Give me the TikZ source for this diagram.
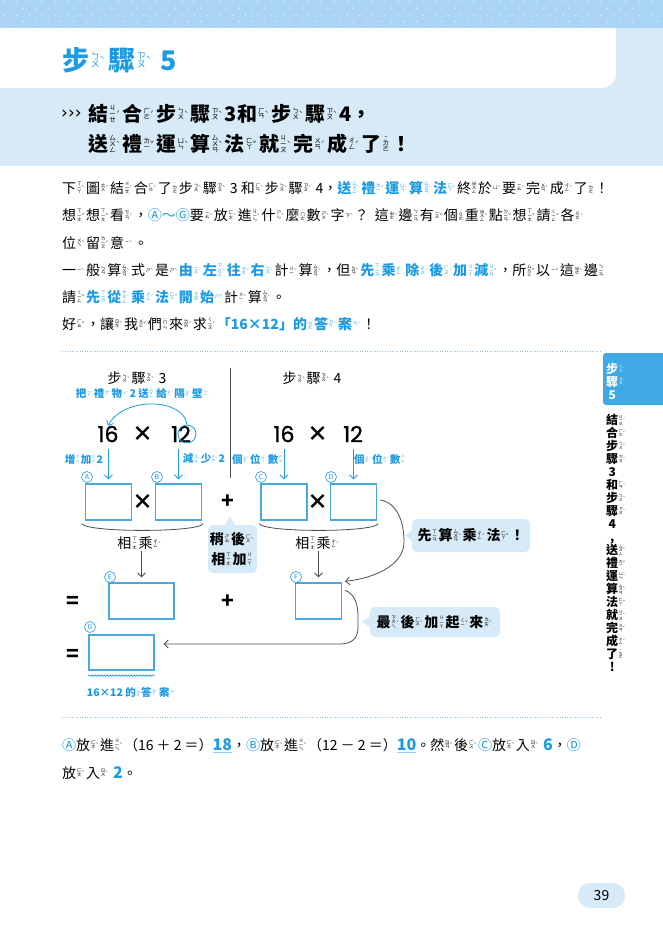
\documentclass[tikz,border=0pt]{standalone}
\usepackage{fontspec}
\setmainfont{Noto Sans CJK TC}
\newfontfamily\numfont{Poppins}[FakeBold=1.2]
\newfontfamily\symfont{DejaVu Sans}
\usetikzlibrary{calc, arrows.meta, decorations.pathmorphing}

% zhuyin set beside a character
\makeatletter
\newcommand\zyfont{\fontsize{\fpeval{0.33*\f@size}}{\fpeval{0.33*\f@size}}\selectfont\mdseries}
\makeatother
\newsavebox\zybox
\def\zystack#1{\ifx#1\relax\else\hbox to 1em{\hss#1\hss}\expandafter\zystack\fi}
\newcommand\zy[3]{#1\sbox\zybox{\zyfont$\vcenter{\baselineskip=0.9em\lineskiplimit=-9pt\zystack#2\relax}\vcenter{\hbox{#3}}$}%
  \kern0.06em\raisebox{\dimexpr0.36em-0.5\ht\zybox+0.5\dp\zybox\relax}{\usebox\zybox}\kern0.12em}

% words that come back
\newcommand\buzhou{\zy{步}{ㄅㄨ}{ˋ}\zy{驟}{ㄗㄡ}{ˋ}}
\newcommand\songli{\zy{送}{ㄙㄨㄥ}{ˋ}\zy{禮}{ㄌㄧ}{ˇ}\zy{運}{ㄩㄣ}{ˋ}\zy{算}{ㄙㄨㄢ}{ˋ}\zy{法}{ㄈㄚ}{ˇ}}
\newcommand\fangjin{\zy{放}{ㄈㄤ}{ˋ}\zy{進}{ㄐㄧㄣ}{ˋ}}
\newcommand\fangru{\zy{放}{ㄈㄤ}{ˋ}\zy{入}{ㄖㄨ}{ˋ}}
\newcommand\gewei{\zy{個}{ㄍㄜ}{ˋ}\zy{位}{ㄨㄟ}{ˋ}\zy{數}{ㄕㄨ}{ˋ}}
\newcommand\xiangcheng{\zy{相}{ㄒㄧㄤ}{}\zy{乘}{ㄔㄥ}{ˊ}}
\newcommand\hl{\color{textBlue}\bfseries}
\newcommand\cl[1]{{\color{textBlue}\mdseries#1}}
\newcommand\keynum[1]{{\color{textBlue}\bfseries\fontsize{16}{16}\selectfont#1}}
\newcommand\ans[1]{\setbox0\hbox{\bfseries\fontsize{16}{16}\selectfont#1}\rlap{\color{boxBlue!55}\rule[-3pt]{\wd0}{1pt}}\keynum{#1}}

\begin{document}
\begin{tikzpicture}[x=1pt, y=-1pt,
    >={Straight Barb[length=4pt,width=8pt]},
    answer box/.style={draw=boxBlue, line width=1.3pt, minimum width=46pt, minimum height=36pt, inner sep=0pt},
    wide box/.style={answer box, minimum width=65pt},
    letter/.style={circle, draw=textBlue, line width=0.6pt, text=textBlue, minimum size=11pt, inner sep=0pt, font=\fontsize{7}{7}\selectfont},
    body/.style={anchor=base west, inner sep=0pt, font=\fontsize{14}{16}\selectfont},
    tag/.style={inner sep=0pt, text=textBlue, font=\fontsize{10.5}{12}\selectfont\bfseries},
    bignum/.style={inner sep=0pt, font=\fontsize{22}{22}\numfont},
    bigop/.style={inner sep=0pt, font=\fontsize{21}{21}\selectfont\bfseries},
    plain/.style={inner sep=0pt, font=\fontsize{14}{14}\selectfont},
    bubble/.style={fill=paleBlue, rounded corners=5pt, inner sep=0pt, font=\fontsize{14}{20}\selectfont\bfseries, align=center},
    side text/.style={anchor=base west, inner sep=0pt, font=\fontsize{12}{12}\selectfont\bfseries},
    blue pointer/.style={->, textBlue, line width=0.8pt},
    grey pointer/.style={->, lineGrey, line width=0.8pt},
  ]

    \definecolor{textBlue}{HTML}{1D9BE2}
    \definecolor{paleBlue}{HTML}{D7EAF8}
    \definecolor{bandBlue}{HTML}{A9D4F3}
    \definecolor{dotBlue}{HTML}{CFE7FA}
    \definecolor{boxBlue}{HTML}{4AA8E0}
    \definecolor{sideBlue}{HTML}{3FA9E6}
    \definecolor{lineGrey}{HTML}{4D4D4D}

    \useasboundingbox[fill=white] (0,0) rectangle (663,932);

    % Draw the top band with its dots
    \fill[bandBlue] (0,0) rectangle (663,28);
    \foreach \r in {0,...,4}
        \foreach \c in {0,...,52}
            \fill[dotBlue] ({\c*12.7+mod(\r,2)*6.35+4},{\r*6.7+1.5}) circle (1.1);

    % Draw the title panel and the heading band
    \fill[paleBlue] (0,28) rectangle (663,166);
    \fill[white] (0,28) -- (616,28) -- (616,74) arc (0:90:14) -- (0,88) -- cycle;
    \node[anchor=base west, inner sep=0pt, text=textBlue, font=\fontsize{27}{27}\selectfont\bfseries] (title) at (62,70) {\buzhou\ 5};
    \node[anchor=base west, inner sep=0pt, font=\fontsize{17}{17}\symfont] (chev) at (61,118) {›››};
    \node[anchor=base west, inner sep=0pt, font=\fontsize{20}{20}\selectfont\bfseries] (head1) at (88,121)
        {\zy{結}{ㄐㄧㄝ}{ˊ}\zy{合}{ㄏㄜ}{ˊ}\buzhou 3\zy{和}{ㄏㄢ}{ˋ}\buzhou 4，};
    \node[anchor=base west, inner sep=0pt, font=\fontsize{20}{20}\selectfont\bfseries] (head2) at (88,151)
        {\songli\zy{就}{ㄐㄧㄡ}{ˋ}\zy{完}{ㄨㄢ}{ˊ}\zy{成}{ㄔㄥ}{ˊ}\zy{了}{˙ㄌㄜ}{}！};

    % Body text
    \node[body] (line1) at (62,193) {\zy{下}{ㄒㄧㄚ}{ˋ}\zy{圖}{ㄊㄨ}{ˊ}\zy{結}{ㄐㄧㄝ}{ˊ}\zy{合}{ㄏㄜ}{ˊ}\zy{了}{˙ㄌㄜ}{}\buzhou\ 3 \zy{和}{ㄏㄢ}{ˋ}\buzhou\ 4，{\hl\songli}\zy{終}{ㄓㄨㄥ}{}\zy{於}{ㄩ}{ˊ}\zy{要}{ㄧㄠ}{ˋ}\zy{完}{ㄨㄢ}{ˊ}\zy{成}{ㄔㄥ}{ˊ}\zy{了}{˙ㄌㄜ}{}！};
    \node[body] (line2) at (62,220.5) {\zy{想}{ㄒㄧㄤ}{ˇ}\zy{想}{ㄒㄧㄤ}{ˇ}\zy{看}{ㄎㄢ}{ˋ}，\cl{Ⓐ～Ⓖ}\zy{要}{ㄧㄠ}{ˋ}\fangjin\zy{什}{ㄕㄣ}{ˊ}\zy{麼}{˙ㄇㄜ}{}\zy{數}{ㄕㄨ}{ˋ}\zy{字}{ㄗ}{ˋ}？\ \ \zy{這}{ㄓㄜ}{ˋ}\zy{邊}{ㄅㄧㄢ}{}\zy{有}{ㄧㄡ}{ˇ}\zy{個}{˙ㄍㄜ}{}\zy{重}{ㄓㄨㄥ}{ˋ}\zy{點}{ㄉㄧㄢ}{ˇ}\zy{想}{ㄒㄧㄤ}{ˇ}\zy{請}{ㄑㄧㄥ}{ˇ}\zy{各}{ㄍㄜ}{ˋ}};
    \node[body] (line3) at (62,248) {\zy{位}{ㄨㄟ}{ˋ}\zy{留}{ㄌㄧㄡ}{ˊ}\zy{意}{ㄧ}{ˋ}。};
    \node[body] (line4) at (62,275.5) {\zy{一}{ㄧ}{ˋ}\zy{般}{ㄅㄢ}{}\zy{算}{ㄙㄨㄢ}{ˋ}\zy{式}{ㄕ}{ˋ}\zy{是}{ㄕ}{ˋ}{\hl\zy{由}{ㄧㄡ}{ˊ}\zy{左}{ㄗㄨㄛ}{ˇ}\zy{往}{ㄨㄤ}{ˇ}\zy{右}{ㄧㄡ}{ˋ}}\zy{計}{ㄐㄧ}{ˋ}\zy{算}{ㄙㄨㄢ}{ˋ}，\zy{但}{ㄉㄢ}{ˋ}{\hl\zy{先}{ㄒㄧㄢ}{}\zy{乘}{ㄔㄥ}{ˊ}\zy{除}{ㄔㄨ}{ˊ}\zy{後}{ㄏㄡ}{ˋ}\zy{加}{ㄐㄧㄚ}{}\zy{減}{ㄐㄧㄢ}{ˇ}}，\zy{所}{ㄙㄨㄛ}{ˇ}\zy{以}{ㄧ}{ˇ}\zy{這}{ㄓㄜ}{ˋ}\zy{邊}{ㄅㄧㄢ}{}};
    \node[body] (line5) at (62,302) {\zy{請}{ㄑㄧㄥ}{ˇ}{\hl\zy{先}{ㄒㄧㄢ}{}\zy{從}{ㄘㄨㄥ}{ˊ}\zy{乘}{ㄔㄥ}{ˊ}\zy{法}{ㄈㄚ}{ˇ}\zy{開}{ㄎㄞ}{}\zy{始}{ㄕ}{ˇ}}\zy{計}{ㄐㄧ}{ˋ}\zy{算}{ㄙㄨㄢ}{ˋ}。};
    \node[body] (line6) at (62,329) {\zy{好}{ㄏㄠ}{ˇ}，\zy{讓}{ㄖㄤ}{ˋ}\zy{我}{ㄨㄛ}{ˇ}\zy{們}{˙ㄇㄣ}{}\zy{來}{ㄌㄞ}{ˊ}\zy{求}{ㄑㄧㄡ}{ˊ}{\hl「16×12」\zy{的}{˙ㄉㄜ}{}\zy{答}{ㄉㄚ}{ˊ}\zy{案}{ㄢ}{ˋ}}！};

    % Dotted separators
    \draw[boxBlue!70, line width=1pt, dash pattern=on 1pt off 1.5pt] (62,351) -- (600,351);
    \draw[boxBlue!70, line width=1pt, dash pattern=on 1pt off 1.5pt] (62,717) -- (600,717);

    % Side tab
    \fill[sideBlue, rounded corners=3pt] (603,353) rectangle (675,405);
    \node[side text, text=white] (sideBu) at (606,373) {\zy{步}{ㄅㄨ}{ˋ}};
    \node[side text, text=white] (sideZou) at (606,386) {\zy{驟}{ㄗㄡ}{ˋ}};
    \node[side text, text=white] (sideNo) at (606,399) {\makebox[1em]{5}};
    \foreach \ch [count=\i] in {{\zy{結}{ㄐㄧㄝ}{ˊ}}, {\zy{合}{ㄏㄜ}{ˊ}}, {\zy{步}{ㄅㄨ}{ˋ}}, {\zy{驟}{ㄗㄡ}{ˋ}}, {\makebox[1em]{3}},
        {\zy{和}{ㄏㄢ}{ˋ}}, {\zy{步}{ㄅㄨ}{ˋ}}, {\zy{驟}{ㄗㄡ}{ˋ}}, {\makebox[1em]{4}}, {\makebox[1em]{,}},
        {\zy{送}{ㄙㄨㄥ}{ˋ}}, {\zy{禮}{ㄌㄧ}{ˇ}}, {\zy{運}{ㄩㄣ}{ˋ}}, {\zy{算}{ㄙㄨㄢ}{ˋ}}, {\zy{法}{ㄈㄚ}{ˇ}},
        {\zy{就}{ㄐㄧㄡ}{ˋ}}, {\zy{完}{ㄨㄢ}{ˊ}}, {\zy{成}{ㄔㄥ}{ˊ}}, {\zy{了}{˙ㄌㄜ}{}}, {\makebox[1em]{!}}}
        \node[side text] (side\i) at (606,{424.5+13*(\i-1)}) {\ch};

    % Step headers and divider
    \node[plain] (stepThree) at (137,378) {\buzhou\ 3};
    \node[plain] (stepFour) at (312,378) {\buzhou\ 4};
    \draw[lineGrey, line width=0.8pt] (230,368) -- (230,478);

    % The two products
    \node[bignum] (n16a) at (108,434) {16};
    \node[bigop] (timesA) at (143,434) {×};
    \node[bignum] (n12a) at (181,434) {12};
    \node[bignum] (n16b) at (284,434) {16};
    \node[bigop] (timesB) at (318,434) {×};
    \node[bignum] (n12b) at (353,434) {12};
    \node[circle, draw=textBlue, line width=0.8pt, minimum size=18pt, inner sep=0pt] (ring) at (187,434) {};
    \node[tag] (gift) at (143,393) {\zy{把}{ㄅㄚ}{ˇ}\zy{禮}{ㄌㄧ}{ˇ}\zy{物}{ㄨ}{ˋ} 2 \zy{送}{ㄙㄨㄥ}{ˋ}\zy{給}{ㄍㄟ}{ˇ}\zy{隔}{ㄍㄜ}{ˊ}\zy{壁}{ㄅㄧ}{ˋ}};
    \draw[blue pointer] (ring.north) .. controls (184,398) and (124,396) .. (n16a.north);

    % Labels over the boxes
    \node[tag] (inc) at (84,459) {\zy{增}{ㄗㄥ}{}\zy{加}{ㄐㄧㄚ}{} 2};
    \node[tag] (dec) at (204,459) {\zy{減}{ㄐㄧㄢ}{ˇ}\zy{少}{ㄕㄠ}{ˇ} 2};
    \node[tag] (onesC) at (259,459) {\gewei};
    \node[tag] (onesD) at (381,459) {\gewei};

    % Answer boxes
    \node[answer box] (boxA) at (108.5,502) {};
    \node[answer box] (boxB) at (178.5,502) {};
    \node[answer box] (boxC) at (284,502) {};
    \node[answer box] (boxD) at (353.5,502) {};
    \node[wide box] (boxE) at (141.5,601) {};
    \node[answer box] (boxF) at (318.5,601) {};
    \node[wide box, minimum height=35pt] (boxG) at (121.5,652.5) {};

    \node[letter] (letA) at (87,477) {A};
    \node[letter] (letB) at (157,477) {B};
    \node[letter] (letC) at (261,477) {C};
    \node[letter] (letD) at (331,477) {D};
    \node[letter] (letE) at (110,577) {E};
    \node[letter] (letF) at (296,577) {F};
    \node[letter] (letG) at (90,627) {G};

    \draw[blue pointer] ($(boxA.north)+(0,-34)$) -- ($(boxA.north)+(0,-4)$);
    \draw[blue pointer] ($(boxB.north)+(0,-34)$) -- ($(boxB.north)+(0,-4)$);
    \draw[blue pointer] ($(boxC.north)+(0,-34)$) -- ($(boxC.north)+(0,-4)$);
    \draw[blue pointer] ($(boxD.north)+(0,-34)$) -- ($(boxD.north)+(0,-4)$);

    % Operators
    \node[bigop] (mulAB) at (143,502) {×};
    \node[bigop] (plusTop) at (228,502) {+};
    \node[bigop] (mulCD) at (318,502) {×};
    \node[bigop] (eqE) at (73,602) {=};
    \node[bigop] (plusMid) at (228,602) {+};
    \node[bigop] (eqG) at (73,655) {=};

    % Brackets under the products
    \draw[lineGrey, line width=0.8pt] ($(boxA.south west)+(-3,3)$) .. controls +(4,9) and +(-4,9) .. ($(boxB.south east)+(1,3)$);
    \draw[lineGrey, line width=0.8pt] ($(boxC.south west)+(-1,3)$) .. controls +(4,9) and +(-4,9) .. ($(boxD.south east)+(1,3)$);

    \node[plain] (mulLeft) at (140,543) {\xiangcheng};
    \node[plain] (mulRight) at (318,543) {\xiangcheng};
    \draw[grey pointer] ($(boxE.north)+(0,-31)$) -- ($(boxE.north)+(0,-5)$);
    \draw[grey pointer] ($(boxF.north)+(0,-31)$) -- ($(boxF.north)+(0,-5)$);

    % Speech bubbles
    \node[bubble, minimum width=49pt, minimum height=48pt] (later) at (232.5,549) {\zy{稍}{ㄕㄠ}{}\zy{後}{ㄏㄡ}{ˋ}\\\zy{相}{ㄒㄧㄤ}{}\zy{加}{ㄐㄧㄚ}{}};
    \fill[paleBlue] ($(later.north)+(-8,1)$) -- ($(later.north)+(-2.5,-8)$) -- ($(later.north)+(3,1)$) -- cycle;
    \node[bubble, minimum width=118pt, minimum height=33pt] (firstMul) at (471,535.5) {\zy{先}{ㄒㄧㄢ}{}\zy{算}{ㄙㄨㄢ}{ˋ}\zy{乘}{ㄔㄥ}{ˊ}\zy{法}{ㄈㄚ}{ˇ}！};
    \fill[paleBlue] ($(firstMul.west)+(1,-6)$) -- ($(firstMul.west)+(-7,0)$) -- ($(firstMul.west)+(1,6)$) -- cycle;
    \node[bubble, minimum width=130pt, minimum height=30pt] (lastAdd) at (435,622) {\zy{最}{ㄗㄨㄟ}{ˋ}\zy{後}{ㄏㄡ}{ˋ}\zy{加}{ㄐㄧㄚ}{}\zy{起}{ㄑㄧ}{ˇ}\zy{來}{ㄌㄞ}{ˊ}};
    \fill[paleBlue] ($(lastAdd.west)+(1,-6)$) -- ($(lastAdd.west)+(-8,0)$) -- ($(lastAdd.west)+(1,6)$) -- cycle;

    % Curved connectors
    \draw[grey pointer] ($(boxD.east)+(3,-2)$) .. controls (398,503) and (404,523) .. (404,542) .. controls (404,565) and (375,578) .. ($(boxF.north east)+(3,-1)$);
    \draw[grey pointer] ($(boxF.north east)+(3,8)$) .. controls (355,594) and (358,605) .. (358,616) -- (358,628) .. controls (358,638) and (352,644) .. (340,644) -- ($(boxG.east)+(9,-8.5)$);

    % Answer label
    \draw[textBlue, line width=0.7pt, decorate, decoration={snake, amplitude=0.8pt, segment length=3pt}] ($(boxG.south west)+(0,5)$) -- ($(boxG.south east)+(0,5)$);
    \node[tag] (answer) at (132,692) {16×12 \zy{的}{˙ㄉㄜ}{}\zy{答}{ㄉㄚ}{ˊ}\zy{案}{ㄢ}{ˋ}};

    % Answer text
    \node[body] (result1) at (62,750) {\cl{Ⓐ}\fangjin（16 ＋ 2 ＝）\ans{18}，\cl{Ⓑ}\fangjin（12 － 2 ＝）\ans{10}。\zy{然}{ㄖㄢ}{ˊ}\zy{後}{ㄏㄡ}{ˋ}\cl{Ⓒ}\fangru\ \keynum{6}，\cl{Ⓓ}};
    \node[body] (result2) at (62,778) {\fangru\ \keynum{2}。};

    % Page number
    \node[fill=paleBlue, rounded corners=12pt, minimum width=47pt, minimum height=25pt, font=\fontsize{14}{14}\selectfont] (pageNo) at (601.5,895.5) {39};

\end{tikzpicture}
\end{document}
